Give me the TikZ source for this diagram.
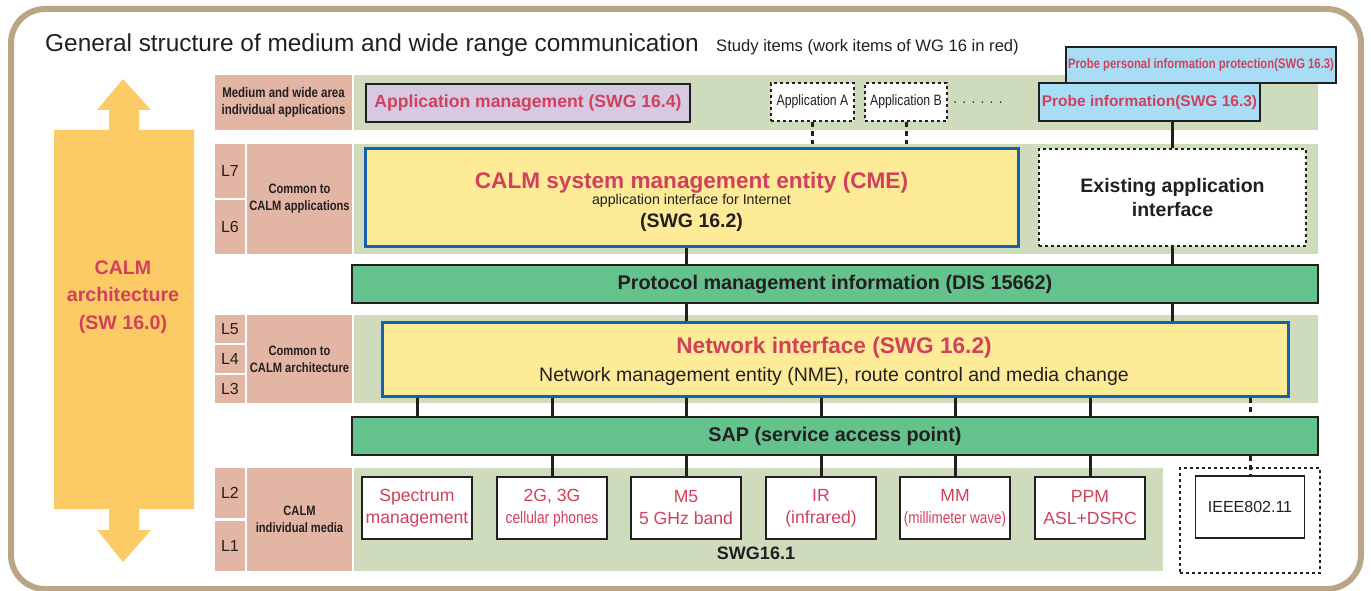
\documentclass[tikz,border=0pt]{standalone}
\usepackage{fontspec}
\setmainfont{Liberation Sans}
\newfontfamily\cond[FakeStretch=0.82]{Liberation Sans}
\newcommand\fs[2]{\fontsize{#1}{#2}\selectfont}
\definecolor{tanc}{HTML}{B8A686}
\definecolor{arrowc}{HTML}{FDCB65}
\definecolor{pinkc}{HTML}{E3B5A5}
\definecolor{greenb}{HTML}{CFDBBD}
\definecolor{purplec}{HTML}{D5C9E3}
\definecolor{lbluec}{HTML}{A8DDF5}
\definecolor{yellowc}{HTML}{FEEB97}
\definecolor{bluec}{HTML}{1660AE}
\definecolor{greenbar}{HTML}{64C28C}
\definecolor{redc}{HTML}{D1405C}
\definecolor{darkc}{HTML}{231F20}
\tikzset{
 lab/.style={fill=pinkc, inner sep=0, align=center, font=\cond\bfseries\fs{14}{17}, text=darkc},
 lay/.style={fill=pinkc, inner sep=0, font=\fs{16}{17}, text=darkc, minimum width=30},
 band/.style={fill=greenb, inner sep=0},
 bar/.style={fill=greenbar, draw=darkc, line width=1.5, inner sep=0, font=\bfseries\fs{19.8}{22}, text=darkc},
 ybox/.style={fill=yellowc, draw=bluec, line width=3, inner sep=0, align=center},
 medium/.style={fill=white, draw=darkc, line width=1.5, inner sep=0, align=center, minimum width=110, minimum height=62, text=redc, font=\fs{17.6}{22}},
 dbox/.style={fill=white, draw=darkc, dashed, line width=1.5, inner sep=0, align=center},
 conn/.style={draw=darkc, line width=3},
 dconn/.style={draw=darkc, line width=3, dash pattern=on 5pt off 4pt},
}
\begin{document}
\begin{tikzpicture}[x=1pt,y=-1pt]
\useasboundingbox (0,0) rectangle (1371,591);
% outer frame
\draw[tanc, line width=6, rounded corners=34] (11,9) rectangle (1361,589);
% title
\node[anchor=base west, inner sep=0, text=darkc, font=\fs{24.4}{26}] (title) at (45,52) {General structure of medium and wide range communication};
\node[anchor=base west, inner sep=0, text=darkc, font=\fs{16.6}{18}] (study) at (716,52) {Study items (work items of WG 16 in red)};
% big double arrow
\fill[arrowc] (123,79) -- (151,110) -- (139,110) -- (139,130) -- (194,130) -- (194,509) -- (139,509) -- (139,530) -- (151,530) -- (123,562) -- (97,530) -- (109,530) -- (109,509) -- (54,509) -- (54,130) -- (109,130) -- (109,110) -- (97,110) -- cycle;
\node[align=center, text=redc, font=\bfseries\fs{19.6}{27.5}, inner sep=0] (archtxt) at (123,297) {CALM\\architecture\\(SW 16.0)};
% row labels
\node[lab, minimum width=137, minimum height=55] (lab1) at (283.5,102.5) {Medium and wide area\\individual applications};
\node[lay, minimum height=54] (L7) at (230,171) {L7};
\node[lay, minimum height=54] (L6) at (230,227) {L6};
\node[lab, minimum width=105, minimum height=110, font=\cond\bfseries\fs{13.6}{17}] (com1) at (299.5,199) {Common to\\CALM applications};
\node[lay, minimum height=28] (L5) at (230,329) {L5};
\node[lay, minimum height=28] (L4) at (230,359) {L4};
\node[lay, minimum height=28] (L3) at (230,389) {L3};
\node[lab, minimum width=105, minimum height=88, font=\cond\bfseries\fs{13.6}{17}] (com2) at (299.5,359) {Common to\\CALM architecture};
\node[lay, minimum height=50] (L2) at (230,493) {L2};
\node[lay, minimum height=50] (L1) at (230,546) {L1};
\node[lab, minimum width=105, minimum height=103, font=\cond\bfseries\fs{13.6}{17}] (com3) at (299.5,519.5) {CALM\\individual media};
% green bands
\node[band, minimum width=964, minimum height=55] (g1) at (836,102.5) {};
\node[band, minimum width=964, minimum height=110] (g2) at (836,199) {};
\node[band, minimum width=964, minimum height=88] (g3) at (836,359) {};
\node[band, minimum width=809, minimum height=103] (g4) at (758.5,519.5) {};
% top row
\node[fill=purplec, draw=darkc, line width=1.5, inner sep=0, minimum width=324, minimum height=38, text=redc, font=\bfseries\fs{17.6}{19}] (appm) at (528,103) {Application management (SWG 16.4)};
\node[dbox, minimum width=83, minimum height=38, font=\cond\fs{15}{16}, text=darkc] (appA) at (812.5,102) {Application A};
\node[dbox, minimum width=82, minimum height=38, font=\cond\fs{15}{16}, text=darkc] (appB) at (906,102) {Application B};
\node[inner sep=0, font=\fs{14}{16}, text=darkc] (dots) at (978,103) {. . . . . .};
\node[fill=lbluec, draw=darkc, line width=1.5, inner sep=0, minimum width=270, minimum height=36, text=redc, font=\cond\bfseries\fs{13.8}{16}] (ppip) at (1201,65) {Probe personal information protection(SWG 16.3)};
\node[fill=lbluec, draw=darkc, line width=1.5, inner sep=0, minimum width=221, minimum height=38, text=redc, font=\bfseries\fs{15.5}{18}] (pinf) at (1149.5,102) {Probe information(SWG 16.3)};
% CME row
\node[ybox, minimum width=653, minimum height=97] (cme) at (691.5,197.5) {};
\node[inner sep=0, align=center, text=redc, font=\bfseries\fs{22.6}{24}] (cmet) at (691.5,183) {CALM system management entity (CME)};
\node[inner sep=0, text=darkc, font=\fs{14.2}{15}] (cmes) at (691.5,201) {application interface for Internet};
\node[inner sep=0, text=darkc, font=\bfseries\fs{19.5}{21}] (cmeg) at (691.5,222) {(SWG 16.2)};
\node[dbox, minimum width=267, minimum height=97, text=darkc, font=\bfseries\fs{19.5}{24}] (exist) at (1172.5,197.5) {Existing application\\interface};
% protocol bar
\node[bar, minimum width=966, minimum height=38] (pmi) at (835,284) {Protocol management information (DIS 15662)};
% network interface
\node[ybox, minimum width=906, minimum height=74] (ni) at (835,359) {};
\node[inner sep=0, text=redc, font=\bfseries\fs{22.6}{24}] (nit) at (834,348) {Network interface (SWG 16.2)};
\node[inner sep=0, text=darkc, font=\fs{19.5}{21}] (nis) at (834,376) {Network management entity (NME), route control and media change};
% SAP
\node[bar, minimum width=966, minimum height=38] (sap) at (835,436) {SAP (service access point)};
% media
\node[medium] (m1) at (417,508) {Spectrum\\management};
\node[medium] (m2) at (552,508) {2G, 3G\\{\cond\fs{16.8}{18}cellular phones}};
\node[medium] (m3) at (686,508) {M5\\5 GHz band};
\node[medium] (m4) at (821,508) {IR\\(infrared)};
\node[medium] (m5) at (955,508) {MM\\{\cond\fs{16.5}{18}(millimeter wave)}};
\node[medium] (m6) at (1090,508) {PPM\\ASL+DSRC};
\node[inner sep=0, text=darkc, font=\bfseries\fs{18}{19}] (swg) at (756,553) {SWG16.1};
\node[draw=darkc, dashed, line width=1.5, inner sep=0, minimum width=140, minimum height=105] (ieeeo) at (1250,520.5) {};
\node[fill=white, draw=darkc, line width=1.5, inner sep=0, minimum width=109, minimum height=62, text=darkc, font=\fs{16}{18}] (ieee) at (1250,507) {IEEE802.11};
% connectors
\draw[dconn] (appA.south) -- (appA.south |- g2.north);
\draw[dconn] (appB.south) -- (appB.south |- g2.north);
\draw[conn] (exist.north |- pinf.south) -- (exist.north);
\draw[conn] (cme.south -| m3.north) -- (pmi.north -| m3.north);
\draw[conn] (exist.south) -- (exist.south |- pmi.north);
\draw[conn] (pmi.south -| m3.north) -- (ni.north -| m3.north);
\draw[conn] (pmi.south -| exist.south) -- (ni.north -| exist.south);
\foreach \m in {m1,m2,m3,m4,m5,m6}{
  \draw[conn] (ni.south -| \m.north) -- (sap.north -| \m.north);
}
\foreach \m in {m2,m3,m4,m5,m6}{
  \draw[conn] (sap.south -| \m.north) -- (\m.north);
}
\draw[dconn] (ni.south -| ieee.north) -- (sap.north -| ieee.north);
\draw[dconn] (sap.south -| ieee.north) -- (ieee.north);
\end{tikzpicture}
\end{document}
